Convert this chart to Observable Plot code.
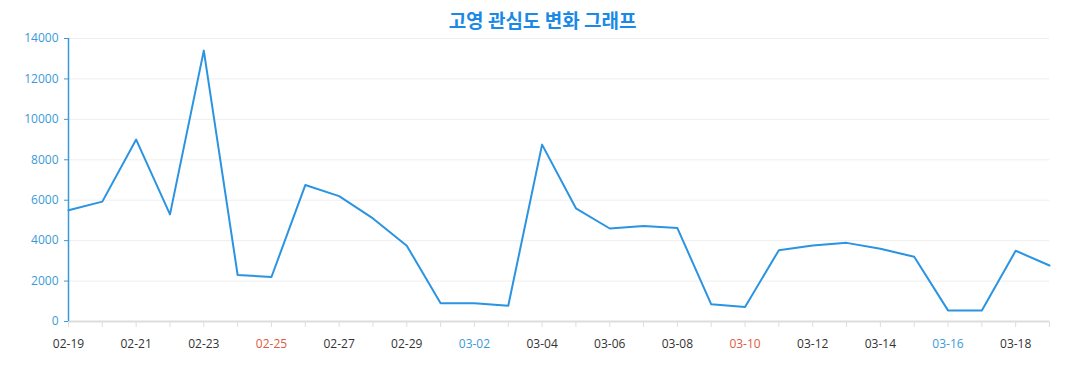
<!DOCTYPE html>
<html>
<head>
<meta charset="utf-8">
<script src="https://cdn.jsdelivr.net/npm/d3@7"></script>
<script src="https://cdn.jsdelivr.net/npm/@observablehq/plot@0.6"></script>
<style>
  html, body { margin: 0; padding: 0; background: #fff; }
  #title {
    width: 1077px; height: 30px; padding-top: 5px; box-sizing: border-box;
    text-align: center; font-family: "Noto Sans CJK KR", sans-serif;
    font-weight: bold; font-size: 19px; line-height: 30px; color: #1b8ae6;
    padding-left: 8px;
  }
  #chart svg { display: block; }
</style>
</head>
<body>
<div id="title">고영 관심도 변화 그래프</div>
<div id="chart"></div>
<script>
const dates = ["02-19","02-20","02-21","02-22","02-23","02-24","02-25","02-26","02-27","02-28","02-29",
  "03-01","03-02","03-03","03-04","03-05","03-06","03-07","03-08","03-09","03-10",
  "03-11","03-12","03-13","03-14","03-15","03-16","03-17","03-18","03-19"];
const values = [5500,5930,9000,5300,13400,2300,2200,6750,6200,5100,3750,
  900,900,780,8750,5600,4600,4720,4620,850,720,
  3530,3760,3890,3600,3200,550,550,3500,2770];
const labelDates = ["02-19","02-21","02-23","02-25","02-27","02-29","03-02","03-04","03-06","03-08","03-10","03-12","03-14","03-16","03-18"];
const sundayDates = ["02-25","03-10"];
const saturdayDates = ["03-02","03-16"];
const yTicks = [0,2000,4000,6000,8000,10000,12000,14000];

const data = dates.map((d, i) => ({date: d, value: values[i]}));
const labels = labelDates.map(d => ({date: d,
  kind: sundayDates.includes(d) ? "sun" : saturdayDates.includes(d) ? "sat" : "day"}));
const labelColor = k => k === "sun" ? "#e05a40" : k === "sat" ? "#3a9ad9" : "#333333";

const chart = Plot.plot({
  width: 1077,
  height: 360,
  marginLeft: 68,
  marginRight: 28,
  marginTop: 8,
  marginBottom: 69,
  style: {fontFamily: "'Open Sans', sans-serif", fontSize: "12px", background: "#fff"},
  x: {type: "point", domain: dates, padding: 0, round: false, axis: null},
  y: {domain: [0, 14000], axis: null},
  marks: [
    Plot.gridY(yTicks, {stroke: "#eeeeee", strokeOpacity: 1, strokeWidth: 1}),
    Plot.ruleY([0], {stroke: "#dddddd", strokeWidth: 2}),
    Plot.axisX(dates, {tickSize: 6, tickFormat: () => "", stroke: "#dddddd", tickPadding: 0, label: null}),
    Plot.text(labels, {x: "date", y: 0, text: "date", dy: 23, fill: d => labelColor(d.kind), fontSize: 12}),
    Plot.axisY(yTicks, {tickSize: 4, stroke: "#3a9ad9", fill: "#3a9ad9", tickPadding: 6, fontSize: 12,
      tickFormat: d => String(d), label: null}),
    Plot.ruleX([dates[0]], {y1: 0, y2: 14000, stroke: "#3a9ad9", strokeWidth: 1.5}),
    Plot.line(data, {x: "date", y: "value", stroke: "#2b94e2", strokeWidth: 2})
  ]
});
document.getElementById("chart").appendChild(chart);
</script>
</body>
</html>
